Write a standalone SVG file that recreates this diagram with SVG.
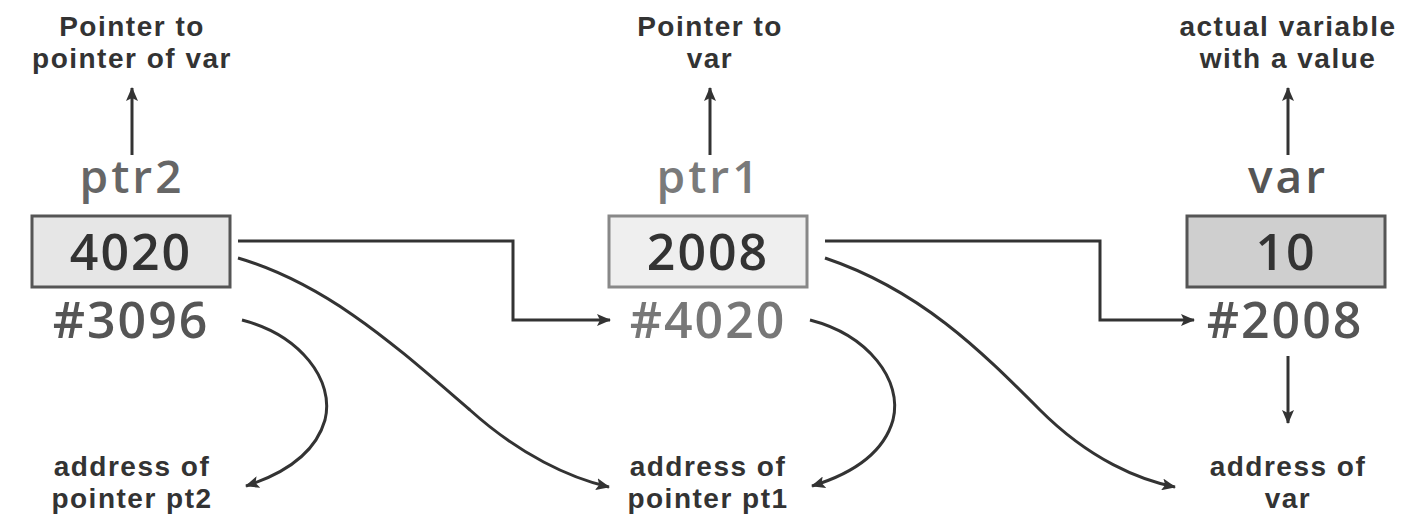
<svg xmlns="http://www.w3.org/2000/svg" width="1417" height="517" viewBox="0 0 1417 517">
<style>
.lbl{font-family:"Liberation Sans",Arial,sans-serif;font-weight:700;font-size:28px;fill:#333;text-anchor:middle;letter-spacing:1.5px}
.name{font-family:"Open Sans","Liberation Sans",sans-serif;font-weight:600;font-size:46px;text-anchor:middle;letter-spacing:3px}
.val{font-family:"Open Sans","Liberation Sans",sans-serif;font-weight:600;font-size:50px;fill:#333;text-anchor:middle;letter-spacing:2px}
.addr{font-family:"Open Sans","Liberation Sans",sans-serif;font-weight:600;font-size:50px;text-anchor:middle;letter-spacing:2px}
.con{fill:none;stroke:#333;stroke-width:3}
</style>
<defs>
<marker id="ah" markerUnits="userSpaceOnUse" markerWidth="14" markerHeight="12" refX="13" refY="6" orient="auto">
<path d="M0,0 L14,6 L0,12 L3,6 z" fill="#333"/>
</marker>
</defs>
<rect width="1417" height="517" fill="#fff"/>
<g id="ptr2">
<text class="lbl"><tspan x="132" y="36">Pointer to</tspan><tspan x="132" y="68">pointer of var</tspan></text>
<text class="name" x="132" y="193" fill="#666">ptr2</text>
<rect x="32" y="216" width="198" height="71" fill="#e6e6e6" stroke="#555" stroke-width="3"/>
<text class="val" x="131" y="270">4020</text>
<text class="addr" x="131" y="338" fill="#555">#3096</text>
<text class="lbl"><tspan x="132" y="476">address of</tspan><tspan x="132" y="508">pointer pt2</tspan></text>
</g>
<g id="ptr1">
<text class="lbl"><tspan x="710" y="36">Pointer to</tspan><tspan x="710" y="68">var</tspan></text>
<text class="name" x="709" y="193" fill="#7a7a7a">ptr1</text>
<rect x="609" y="216" width="198" height="71" fill="#efefef" stroke="#888" stroke-width="3"/>
<text class="val" x="708" y="270">2008</text>
<text class="addr" x="708" y="338" fill="#777">#4020</text>
<text class="lbl"><tspan x="708" y="476">address of</tspan><tspan x="708" y="508">pointer pt1</tspan></text>
</g>
<g id="var">
<text class="lbl"><tspan x="1288" y="36">actual variable</tspan><tspan x="1288" y="68">with a value</tspan></text>
<text class="name" x="1288" y="193" fill="#555">var</text>
<rect x="1187" y="216" width="198" height="71" fill="#cfcfcf" stroke="#555" stroke-width="3"/>
<text class="val" x="1286" y="270">10</text>
<text class="addr" x="1285" y="338" fill="#555">#2008</text>
<text class="lbl"><tspan x="1288" y="476">address of</tspan><tspan x="1288" y="508">var</tspan></text>
</g>
<g id="connectors">
<path class="con" d="M132,155 V88" marker-end="url(#ah)"/>
<path class="con" d="M710,155 V88" marker-end="url(#ah)"/>
<path class="con" d="M1288,155 V88" marker-end="url(#ah)"/>
<path class="con" d="M1288,356 V423" marker-end="url(#ah)"/>
<path class="con" d="M238,241 H513 V320 H610" marker-end="url(#ah)"/>
<path class="con" d="M825,241 H1100 V320 H1194" marker-end="url(#ah)"/>
<path class="con" d="M242,320 C300,335 335,380 325,420 C315,455 280,475 246,486" marker-end="url(#ah)"/>
<path class="con" d="M810,320 C868,335 903,380 893,420 C883,455 848,475 812,486" marker-end="url(#ah)"/>
<path class="con" d="M238,258 C330,285 400,350 470,410 C520,455 570,478 609,487" marker-end="url(#ah)"/>
<path class="con" d="M825,258 C920,290 980,350 1040,410 C1090,460 1140,480 1175,487" marker-end="url(#ah)"/>
</g>
</svg>
